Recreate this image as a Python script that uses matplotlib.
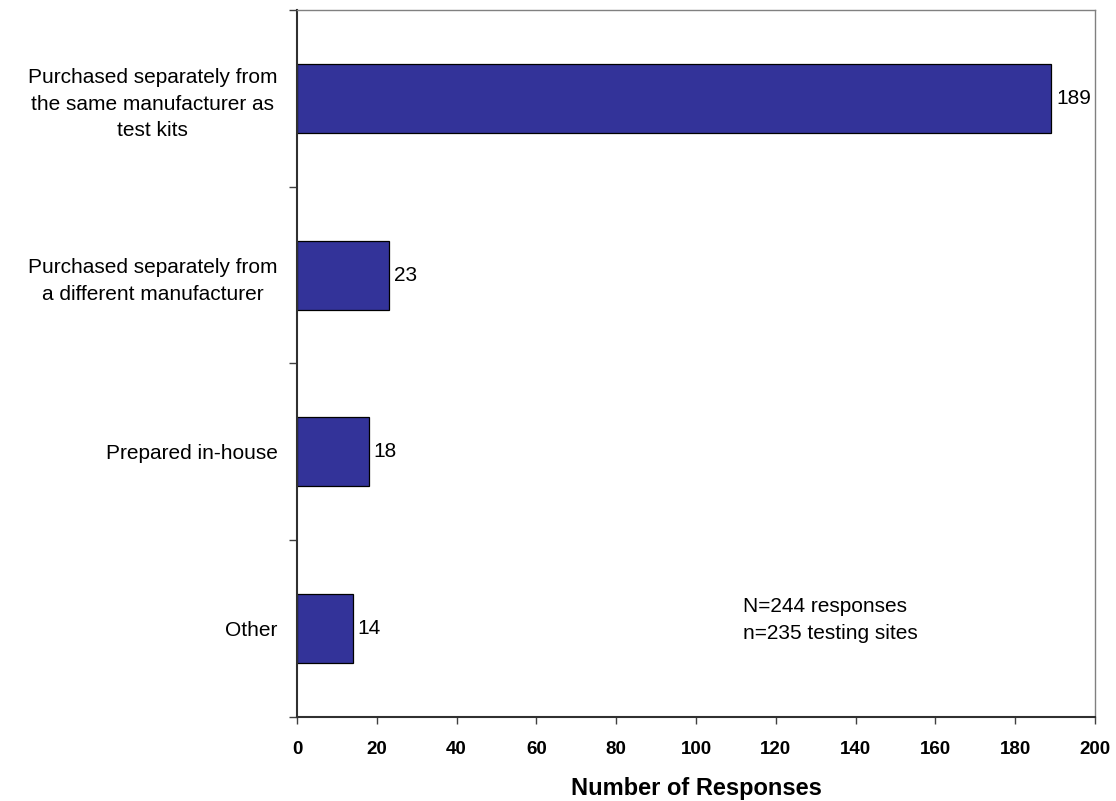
import numpy as np
import matplotlib.pyplot as plt

plt.rcParams['font.family'] = ['Liberation Sans', 'DejaVu Sans']

''' 数据 '''
categories = ['Purchased separately from\nthe same manufacturer as\ntest kits',
              'Purchased separately from\na different manufacturer',
              'Prepared in-house',
              'Other']
responses = [189, 23, 18, 14]
note = 'N=244 responses\nn=235 testing sites'

fig = plt.figure(figsize=(11.16, 8.01), dpi=100)
ax = fig.add_axes([297 / 1116, 1 - 717 / 801, 798 / 1116, 707 / 801])

pos = np.arange(len(categories))
ax.barh(pos, responses, height=0.39, color='#333399', edgecolor='black', linewidth=0.9)
for p, v in zip(pos, responses):
    ax.text(v + 1.2, p, str(v), va='center', ha='left', fontsize=15)

ax.set_xlim(0, 200)
ax.set_ylim(len(categories) - 0.5, -0.5)

# 刻度在类别边界，标签在中心
ax.set_yticks(np.arange(-0.5, len(categories), 1.0))
ax.set_yticklabels([])
ax.set_yticks(pos, minor=True)
ax.set_yticklabels(categories, minor=True, fontsize=15, multialignment='center',
                   linespacing=1.5)
ax.tick_params(axis='y', which='major', direction='out', length=6, width=1, color='#404040')
ax.tick_params(axis='y', which='minor', length=0, pad=14)

ax.set_xticks(np.arange(0, 201, 20))
ax.tick_params(axis='x', direction='out', length=5, width=1, color='#404040', pad=12)
for lab in ax.get_xticklabels():
    lab.set_fontweight('bold')
    lab.set_fontsize(13.5)

ax.set_xlabel('Number of Responses', fontsize=17, fontweight='bold', labelpad=14)

for s in ['left', 'bottom']:
    ax.spines[s].set_color('#303030')
    ax.spines[s].set_linewidth(1.5)
for s in ['top', 'right']:
    ax.spines[s].set_color('#808080')
    ax.spines[s].set_linewidth(1.0)

ax.text(111.8, 2.95, note, va='center', ha='left', fontsize=15, linespacing=1.55)

plt.savefig('out.png', dpi=100)
